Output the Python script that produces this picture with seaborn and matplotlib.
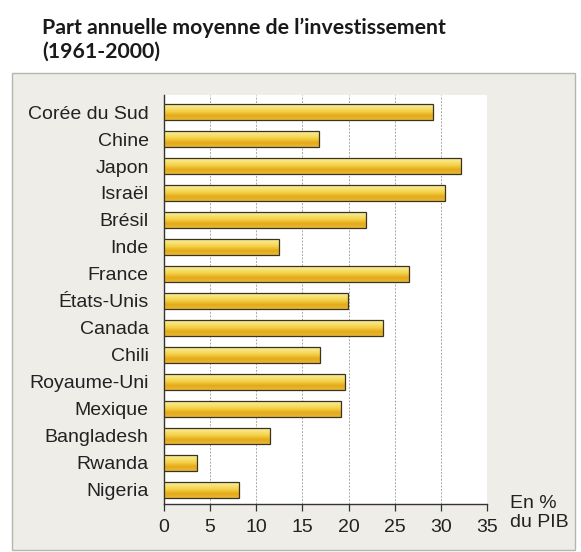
import numpy as np
import pandas as pd
import matplotlib
matplotlib.use("Agg")
import matplotlib.pyplot as plt
from matplotlib.patches import Rectangle
from matplotlib.colors import LinearSegmentedColormap
import seaborn as sns

# ---- data (% of GDP) ----
countries = ["Corée du Sud", "Chine", "Japon", "Israël", "Brésil", "Inde",
             "France", "États-Unis", "Canada", "Chili", "Royaume-Uni",
             "Mexique", "Bangladesh", "Rwanda", "Nigeria"]
invest_share = [29.1, 16.8, 32.2, 30.4, 21.9, 12.5, 26.6, 19.9, 23.7,
                16.9, 19.6, 19.2, 11.5, 3.6, 8.1]
x_ticks = [0, 5, 10, 15, 20, 25, 30, 35]

df = pd.DataFrame({"pays": countries, "part": invest_share})

sns.set_theme(style="white")
plt.rcParams["font.family"] = ["Liberation Sans", "DejaVu Sans"]

fig = plt.figure(figsize=(5.81, 5.52), dpi=100)
fig.patch.set_facecolor("white")

# light grey frame behind the chart
fig.patches.append(Rectangle((12 / 581, 1 - 550 / 552), 563 / 581, 477 / 552,
                             transform=fig.transFigure, facecolor="#eeede8",
                             edgecolor="#b5b5b0", linewidth=1.0, zorder=-5))

ax = fig.add_axes([164 / 581, 48 / 552, 323 / 581, 409 / 552])
ax.set_facecolor("white")

sns.barplot(data=df, y="pays", x="part", orient="h", ax=ax, width=0.62,
            color="#f0c030", edgecolor="#3a3320", linewidth=0.9, zorder=3)

# golden gradient on each bar
grad = LinearSegmentedColormap.from_list(
    "gold", ["#f8ecb0", "#f8e47a", "#f3cf45", "#e4a918", "#e8b83a"])
g = np.linspace(0, 1, 64).reshape(-1, 1)
for p in ax.patches:
    x0, y0 = p.get_x(), p.get_y()
    w, h = p.get_width(), p.get_height()
    im = ax.imshow(g, cmap=grad, aspect="auto", extent=[x0, x0 + w, y0 + h, y0],
                   origin="upper", zorder=3.5, interpolation="bilinear")
    im.set_clip_path(p)
    p.set_facecolor("none")
    p.set_zorder(4)

ax.set_xlim(0, 35)
ax.set_ylim(14.52, -0.63)
ax.set_xticks(x_ticks)
ax.set_xticklabels([str(t) for t in x_ticks])
ax.xaxis.grid(True, linestyle=(0, (2, 1.5)), color="#a8a8a8", linewidth=0.7, zorder=0)
ax.yaxis.grid(False)
ax.set_axisbelow(True)

for s in ["top", "right"]:
    ax.spines[s].set_visible(False)
for s in ["left", "bottom"]:
    ax.spines[s].set_color("#333333")
    ax.spines[s].set_linewidth(1.0)

ax.tick_params(axis="x", bottom=True, length=5, width=0.9, color="#333333",
               labelsize=14, labelcolor="#222222", pad=6)
ax.tick_params(axis="y", left=False, labelsize=14, labelcolor="#222222", pad=5)
ax.set_xlabel("")
ax.set_ylabel("")

fig.text(510 / 581, 1 - 513 / 552, "En %\ndu PIB", ha="left", va="center",
         fontsize=14, color="#222222", linespacing=1.2)

fig.text(42 / 581, 1 - 62 / 552,
         "Part annuelle moyenne de l\u2019investissement\n(1961-2000)",
         ha="left", va="bottom", fontsize=15.3, fontweight="bold",
         family=["Lato", "DejaVu Sans"], color="#1a1a1a", linespacing=1.25)

fig.savefig("out.png", dpi=100)
